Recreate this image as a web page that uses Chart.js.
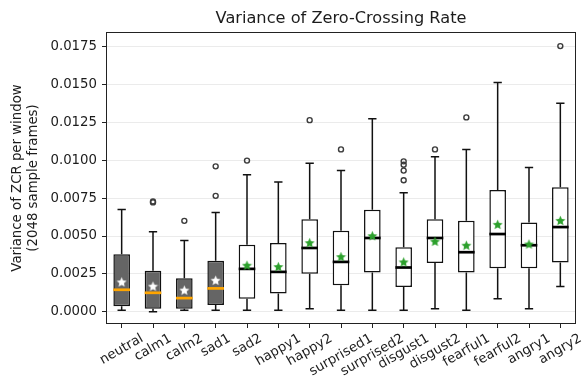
<!DOCTYPE html>
<html>
<head>
<meta charset="utf-8">
<script src="https://cdn.jsdelivr.net/npm/chart.js@4.4.0/dist/chart.umd.min.js"></script>
<style>
    html, body { margin: 0; padding: 0; background: #fff; }
</style>
</head>
<body>
<canvas id="zcrChart" width="582" height="379"></canvas>
<script>
// values
var categories = ['neutral', 'calm1', 'calm2', 'sad1', 'sad2', 'happy1', 'happy2', 'surprised1',
    'surprised2', 'disgust1', 'disgust2', 'fearful1', 'fearful2', 'angry1', 'angry2'];
var shadedCats = ['neutral', 'calm1', 'calm2', 'sad1'];

var whiskerLow  = [0.0001, 0.0000, 0.0001, 0.0001, 0.0001, 0.0001, 0.0002, 0.0001, 0.0001, 0.0001, 0.0002, 0.0001, 0.00086, 0.0002, 0.00167];
var q1          = [0.00037, 0.0002, 0.0002, 0.00044, 0.00086, 0.0012, 0.0025, 0.00175, 0.00259, 0.00164, 0.00322, 0.00259, 0.00287, 0.00287, 0.00325];
var medians     = [0.00145, 0.00125, 0.0009, 0.00154, 0.00283, 0.00263, 0.00421, 0.00329, 0.00487, 0.00292, 0.00487, 0.00393, 0.00513, 0.00439, 0.00559];
var q3          = [0.00379, 0.0027, 0.00221, 0.00336, 0.00443, 0.00454, 0.0061, 0.00535, 0.00673, 0.00425, 0.0061, 0.00601, 0.00803, 0.0059, 0.00822];
var whiskerHigh = [0.00675, 0.00528, 0.00471, 0.00656, 0.00904, 0.00857, 0.0098, 0.00932, 0.01274, 0.00785, 0.01024, 0.01072, 0.01513, 0.00952, 0.01377];
var means       = [0.00197, 0.00169, 0.00143, 0.00208, 0.00307, 0.00298, 0.00456, 0.00364, 0.00502, 0.00329, 0.00465, 0.00439, 0.00577, 0.00447, 0.00603];

var outlierCats = ['calm1', 'calm1', 'calm2', 'sad1', 'sad1', 'sad2', 'happy2', 'surprised1',
    'disgust1', 'disgust1', 'disgust1', 'disgust1', 'disgust2', 'fearful1', 'angry2'];
var outlierVals = [0.00722, 0.00728, 0.0060, 0.00765, 0.0096, 0.00998, 0.01265, 0.01072,
    0.00868, 0.00932, 0.0097, 0.00993, 0.01072, 0.01283, 0.01754];

var yTicks = [0, 0.0025, 0.005, 0.0075, 0.01, 0.0125, 0.015, 0.0175];

var titleText = 'Variance of Zero-Crossing Rate';
var yTitle = ['Variance of ZCR per window', '(2048 sample frames)'];

var textColor = '#1c1c1c';
var fontFam = '"DejaVu Sans", sans-serif';

function isShaded(i) {
    return shadedCats.indexOf(categories[i]) >= 0;
}

function makeStar(color, size) {
    var c = document.createElement('canvas');
    c.width = size;
    c.height = size;
    var ctx = c.getContext('2d');
    var cx = size / 2, cy = size / 2 + size * 0.05;
    var R = size / 2 - 0.2, r = R * 0.45;
    ctx.beginPath();
    for (var i = 0; i < 10; i++) {
        var ang = -Math.PI / 2 + i * Math.PI / 5;
        var rad = (i % 2 === 0) ? R : r;
        ctx.lineTo(cx + rad * Math.cos(ang), cy + rad * Math.sin(ang));
    }
    ctx.closePath();
    ctx.fillStyle = color;
    ctx.fill();
    return c;
}

var whiteStar = makeStar('#ffffff', 11);
var greenStar = makeStar('#2ca02c', 11);

// whiskers, caps and median lines drawn right after the boxes
var boxParts = {
    id: 'boxParts',
    afterDatasetDraw: function (chart, args) {
        if (args.index !== 0) return;
        var ctx = chart.ctx;
        var ys = chart.scales.y;
        var meta = chart.getDatasetMeta(0);
        ctx.save();
        for (var i = 0; i < categories.length; i++) {
            var bar = meta.data[i];
            var x = bar.x;
            var half = bar.width / 2;
            var cap = bar.width / 4;
            ctx.strokeStyle = '#111';
            ctx.lineWidth = 1.5;
            ctx.beginPath();
            ctx.moveTo(x, ys.getPixelForValue(q3[i]));
            ctx.lineTo(x, ys.getPixelForValue(whiskerHigh[i]));
            ctx.moveTo(x, ys.getPixelForValue(q1[i]));
            ctx.lineTo(x, ys.getPixelForValue(whiskerLow[i]));
            ctx.moveTo(x - cap, ys.getPixelForValue(whiskerHigh[i]));
            ctx.lineTo(x + cap, ys.getPixelForValue(whiskerHigh[i]));
            ctx.moveTo(x - cap, ys.getPixelForValue(whiskerLow[i]));
            ctx.lineTo(x + cap, ys.getPixelForValue(whiskerLow[i]));
            ctx.stroke();

            ctx.strokeStyle = isShaded(i) ? '#ffa500' : '#000';
            ctx.lineWidth = 2.7;
            ctx.beginPath();
            ctx.moveTo(x - half, ys.getPixelForValue(medians[i]));
            ctx.lineTo(x + half, ys.getPixelForValue(medians[i]));
            ctx.stroke();
        }
        ctx.restore();
    }
};

// title, frame and rotated category labels
var decorations = {
    id: 'decorations',
    afterDraw: function (chart) {
        var ctx = chart.ctx;
        var area = chart.chartArea;
        var xs = chart.scales.x;
        ctx.save();
        ctx.strokeStyle = '#222';
        ctx.lineWidth = 1;
        ctx.strokeRect(Math.round(area.left) + 0.5, Math.round(area.top) + 0.5,
            Math.round(area.right - area.left) - 1, Math.round(area.bottom - area.top) - 1);

        ctx.fillStyle = textColor;
        ctx.font = '16.2px ' + fontFam;
        ctx.textAlign = 'center';
        ctx.textBaseline = 'alphabetic';
        ctx.fillText(titleText, (area.left + area.right) / 2, 22.5);

        var fs = 13.3;
        ctx.font = fs + 'px ' + fontFam;
        ctx.textBaseline = 'middle';
        var a = 30 * Math.PI / 180;
        for (var i = 0; i < categories.length; i++) {
            var x = xs.getPixelForTick(i);
            var w = ctx.measureText(categories[i]).width;
            var h = fs * 1.05;
            var bh = w * Math.sin(a) + h * Math.cos(a);
            var cy = area.bottom + 4 + 3.5 + bh / 2;
            ctx.save();
            ctx.translate(x, cy);
            ctx.rotate(-a);
            ctx.fillText(categories[i], 0, 0);
            ctx.restore();
        }
        ctx.restore();
    }
};

Chart.defaults.font.family = fontFam;

var boxColors = categories.map(function (c, i) { return isShaded(i) ? '#656565' : '#ffffff'; });
var starStyles = categories.map(function (c, i) { return isShaded(i) ? whiteStar : greenStar; });

var zcrChart = new Chart(document.getElementById('zcrChart'), {
    data: {
        labels: categories,
        datasets: [
            {
                type: 'bar',
                order: 2,
                data: categories.map(function (c, i) { return [q1[i], q3[i]]; }),
                backgroundColor: boxColors,
                borderColor: '#111',
                borderWidth: 1.5,
                borderSkipped: false,
                barPercentage: 0.53,
                categoryPercentage: 1
            },
            {
                type: 'line',
                order: 1,
                showLine: false,
                data: outlierCats.map(function (c, i) { return { x: c, y: outlierVals[i] }; }),
                pointStyle: 'circle',
                pointRadius: 2.5,
                pointBorderWidth: 1.4,
                pointBorderColor: '#3c3c3c',
                pointBackgroundColor: 'rgba(255,255,255,0)'
            },
            {
                type: 'line',
                order: 0,
                showLine: false,
                data: means,
                pointStyle: starStyles,
                pointRadius: 5
            }
        ]
    },
    options: {
        responsive: false,
        animation: false,
        layout: { padding: { top: 32, right: 2, left: 0, bottom: 0 } },
        plugins: {
            legend: { display: false },
            tooltip: { enabled: false },
            title: { display: false }
        },
        scales: {
            x: {
                type: 'category',
                offset: true,
                border: { display: false },
                grid: {
                    offset: false,
                    drawOnChartArea: false,
                    drawTicks: true,
                    tickLength: 4,
                    tickColor: '#222'
                },
                ticks: { display: false },
                afterFit: function (scale) { scale.height = 55; }
            },
            y: {
                min: -0.00081,
                max: 0.01847,
                border: { display: false },
                grid: {
                    color: '#ebebeb',
                    lineWidth: 1,
                    tickLength: 4,
                    tickColor: '#222'
                },
                ticks: {
                    includeBounds: false,
                    padding: 5,
                    color: textColor,
                    font: { size: 13.3 },
                    callback: function (v) { return Number(v).toFixed(4); }
                },
                afterBuildTicks: function (scale) {
                    scale.ticks = yTicks.map(function (v) { return { value: v }; });
                },
                title: {
                    display: true,
                    text: yTitle,
                    color: textColor,
                    font: { size: 13.3 },
                    padding: { top: 9.5, bottom: 0 }
                },
                afterFit: function (scale) { scale.width = 106; }
            }
        }
    },
    plugins: [boxParts, decorations]
});
</script>
</body>
</html>
